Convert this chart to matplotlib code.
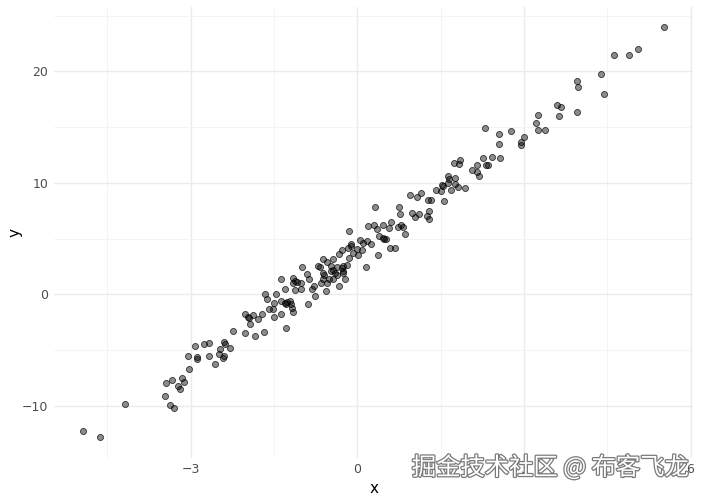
import matplotlib
matplotlib.use("Agg")
import matplotlib.pyplot as plt
import matplotlib.patheffects as pe

# points (data units)
x = [5.53, 4.63, 4.90, 5.06, 4.39, 3.96, 3.98,
     4.45, 3.60, 3.67, 3.26, 3.63, 3.96, 3.22, 3.26, 3.38, 2.30, 2.55, 2.77, 3.00,
     2.95, 2.95, 2.55, 2.26, 2.43, 2.57, 1.74, 1.83, 1.85, 2.07, 2.16, 2.32, 2.35,
     2.16, 2.19, 1.63, 1.65, 1.76, 1.63, 1.76, 1.81, 1.94, 1.69, 1.53, 1.54, 1.42,
     1.51, 0.95, 1.08, 1.15, 1.27, 1.33, 1.56, 0.32, 0.75, 0.77, 0.99, 1.04, 1.11,
     1.26, 1.29, 1.29, -0.15, 0.19, 0.30, 0.35, 0.46, 0.57, 0.61, 0.73, 0.79, 0.82,
     0.86, 0.05, 0.10, 0.17, 0.25, 0.39, 0.46, 0.48, 0.52, -0.11, -0.11, -0.17,
     -0.28, -0.01, 0.08, 0.59, 0.68,
     -0.33, -0.08, 0.01, 0.37, -0.62, -0.15, -0.55, -0.44, -1.00, -0.71, -0.67,
     -0.47, -0.37, -0.26, -0.28, -0.19, 0.16, -0.47, -0.44, -0.40, -0.37, -0.26,
     -0.26, -0.62, -0.60, -0.91, -0.87, -1.37, -1.16, -1.12, -1.16, -1.09, -1.01,
     -0.51, -0.44, -0.62, -0.65, -0.55, -0.22, -0.33, -1.30, -1.12, -1.01, -0.82,
     -0.78, -0.56, -0.76, -1.66, -1.46, -1.63, -1.50, -1.37, -1.30, -1.27, -1.21,
     -1.19, -1.28, -1.18, -1.16, -0.89, -1.59, -1.52, -1.37, -2.02, -1.97, -1.95,
     -1.88, -1.72, -1.79, -1.50, -1.93, -1.28,
     -2.24, -2.02, -1.84, -1.68, -2.40, -2.38, -2.92, -2.76, -2.67, -2.47, -2.29,
     -3.05, -2.89, -2.89, -2.67, -2.49, -2.40, -2.42, -2.56, -3.03, -3.45, -3.34,
     -3.16, -3.12, -3.23, -3.20, -3.46, -3.37, -3.30, -4.19, -4.94, -4.64]
y = [23.97, 21.46, 21.46, 22.00, 19.76, 19.13, 18.59,
     17.96, 16.98, 16.80, 16.08, 15.99, 16.35, 15.36, 14.74, 14.74, 14.91, 14.38,
     14.65, 14.11, 13.66, 13.39, 13.48, 12.22, 12.31, 12.22, 11.78, 11.69, 12.04,
     11.15, 11.60, 11.60, 11.60,
     10.97, 10.61, 10.61, 10.34, 10.43, 9.98, 9.89, 9.62, 9.53, 9.35, 9.80, 9.71,
     9.35, 9.26, 8.91, 8.73, 9.09, 8.46, 8.46, 8.37, 7.83, 7.83, 7.20, 7.29, 6.93,
     7.20, 7.02, 7.47, 6.75, 5.68, 6.13, 6.22, 5.86, 6.22, 5.95, 6.48, 6.04, 6.22,
     6.04, 5.41, 4.87, 4.60, 4.78, 4.51, 5.23, 5.05, 4.96, 4.96, 4.51, 4.33, 4.15,
     3.97, 4.06, 3.97, 4.15, 4.15,
     3.61, 3.70, 3.52, 3.52, 3.17, 3.26, 2.90, 3.17, 2.45, 2.54, 2.45, 2.54, 2.45,
     2.54, 2.36, 2.63, 2.45, 2.09, 2.18, 1.91, 1.73, 2.09, 1.91, 1.91, 1.73, 1.82,
     1.37, 1.37, 1.46, 1.19, 1.01, 1.10, 1.01, 1.37, 1.37, 1.37, 1.01, 1.01, 1.37,
     0.74, 0.48, 0.39, 0.48, 0.48, 0.74, 0.30, -0.15, 0.03, 0.03, -0.42, -0.78,
     -0.60, -0.78, -0.69, -0.60, -0.87, -0.87, -1.23, -1.59, -0.87, -1.32, -1.32,
     -1.77, -1.77, -2.04, -2.13, -1.86, -1.77, -2.22, -2.04, -2.66, -3.02,
     -3.29, -3.47, -3.74, -3.38, -4.28, -4.46, -4.64, -4.46, -4.37, -4.91, -4.82,
     -5.53, -5.62, -5.80, -5.53, -5.35, -5.53, -5.71, -6.25, -6.70, -7.96, -7.69,
     -7.51, -7.87, -8.22, -8.49, -9.12, -9.93, -10.20, -9.84, -12.26, -12.80]

x_ticks = [-3, 0, 3, 6]
y_ticks = [-10, 0, 10, 20]
x_minor = [-4.5, -1.5, 1.5, 4.5]
y_minor = [-5, 5, 15, 25]
watermark = "掘金技术社区 @ 布客飞龙"

fig = plt.figure(figsize=(7.01, 5.01), dpi=100)
ax = fig.add_axes([0.077, 0.086, 0.912, 0.9])

ax.scatter(x, y, s=19, facecolors=(0, 0, 0, 0.45), edgecolors=(0, 0, 0, 0.75),
           linewidths=0.6, zorder=3)

ax.set_xlim(-5.46, 6.05)
ax.set_ylim(-14.68, 25.77)
ax.set_xticks(x_ticks)
ax.set_yticks(y_ticks)
ax.set_xticks(x_minor, minor=True)
ax.set_yticks(y_minor, minor=True)
ax.grid(True, which="major", color="#EBEBEB", linewidth=1.0)
ax.grid(True, which="minor", color="#F3F3F3", linewidth=0.6)
ax.set_axisbelow(True)
for s in ax.spines.values():
    s.set_visible(False)
ax.tick_params(which="both", length=0, labelsize=9, labelcolor="#4D4D4D", pad=4)
ax.set_xlabel("x", fontsize=11, labelpad=3)
ax.set_ylabel("y", fontsize=11, labelpad=0)

fig.text(0.982, 0.066, watermark, ha="right", va="center", fontsize=17.5,
         family=["Noto Sans CJK SC", "DejaVu Sans"], color="white",
         path_effects=[pe.Stroke(linewidth=1.8, foreground="#7a7a7a"), pe.Normal()])

fig.savefig("out.png", dpi=100)
